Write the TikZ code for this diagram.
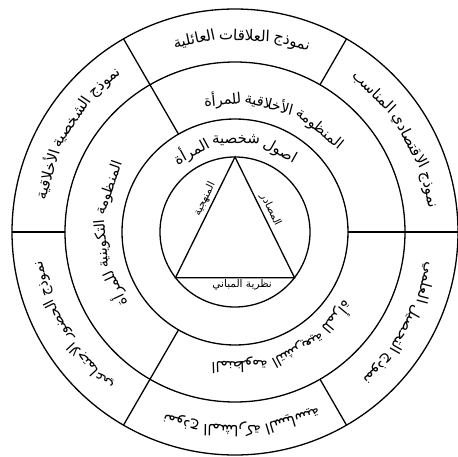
\documentclass[tikz,border=0pt]{standalone}
\usepackage{fontspec}
\newfontfamily\arfont[Script=Arabic]{DejaVu Sans}
\TeXXeTstate=1
\usetikzlibrary{calc}
\tikzset{
  ring/.style={line width=1.3pt},
  spoke/.style={line width=1.3pt},
  word/.style={inner sep=0pt},
  sidelabel/.style={inner sep=3pt, font=\arfont\fontsize{10.5}{12}\selectfont},
}
% words of one label set along an arc, read counter-clockwise
\newsavebox\wordbox
\newdimen\wordwd
\newcommand\measureword[2]{% font size, word
  \pgfinterruptpicture
    \sbox\wordbox{\arfont\fontsize{#1}{#1}\selectfont\beginR#2\endR}%
    \global\wordwd=\wd\wordbox
  \endpgfinterruptpicture}
\newcommand\ringtext[5]{% name, centre angle, radius (pt), font size, words
  \gdef\ringtot{0}%
  \foreach \w in {#5}{%
    \measureword{#4}{\w}%
    \pgfmathsetmacro\tmp{\ringtot+deg((\wordwd+4)/#3)}%
    \global\let\ringtot\tmp}%
  \pgfmathsetmacro\tmp{#2-(\ringtot-deg(4/#3))/2}%
  \global\let\ringang\tmp
  \foreach \w [count=\i] in {#5}{%
    \measureword{#4}{\w}%
    \pgfmathsetmacro\wordang{\ringang+deg(\wordwd/2/#3)}%
    \node[word, rotate=\wordang-90, font=\arfont\fontsize{#4}{#4}\selectfont]
      (#1-\i) at (\wordang:#3pt) {\beginR\w\endR};
    \pgfmathsetmacro\tmp{\ringang+deg((\wordwd+4)/#3)}%
    \global\let\ringang\tmp}%
}

\begin{document}
\begin{tikzpicture}
  \useasboundingbox (-235pt,-224pt) rectangle (223pt,232pt);

  % --- rings and spokes ---------------------------------------------
  \foreach \r in {223,170,113,75} \draw[ring] (0,0) circle (\r pt);
  \foreach \a in {0,120,240} \draw[spoke] (\a:113pt) -- (\a:223pt);
  \foreach \a in {60,180,300} \draw[spoke] (\a:170pt) -- (\a:223pt);

  % --- triangle in the core -----------------------------------------
  \coordinate (apex) at (90:75pt);
  \coordinate (left) at (217.5:75pt);
  \coordinate (right) at (322.5:75pt);
  \draw[ring] (apex) -- (left) -- (right) -- cycle;
  \path (left) -- node[sidelabel, pos=0.62, sloped, above] (method) {\beginR المنهجية\endR} (apex);
  \path (apex) -- node[sidelabel, pos=0.47, sloped, above] (sources) {\beginR المصادر\endR} (right);
  \path (left) -- node[sidelabel, pos=0.56, below, inner sep=2pt] (theory) {\beginR نظرية المباني\endR} (right);

  % --- inner ring ---------------------------------------------------
  \ringtext{base}{90}{92}{15}{اصول,شخصية,المرأة}

  % --- middle ring --------------------------------------------------
  \ringtext{moral}{71}{133}{14.5}{المنظومة,الأخلاقية,للمرأة}
  \ringtext{form}{181}{133}{14.5}{المنظومة,التكوينية,للمرأة}
  \ringtext{law}{294}{133}{14.5}{المنظومة,التشريعية,للمرأة}

  % --- outer ring ---------------------------------------------------
  \ringtext{family}{88}{197}{15}{نموذج,العلاقات,العائلية}
  \ringtext{econ}{30}{197}{15}{نموذج,الاقتصادي,المناسب}
  \ringtext{ethic}{148}{197}{15}{نموذج,الشخصية,الأخلاقية}
  \ringtext{social}{210}{197}{14.5}{نموذج,الحضور,الاجتماعي}
  \ringtext{polit}{272}{197}{15}{نموذج,المشاركة,السياسية}
  \ringtext{study}{331}{197}{15}{نموذج,التحصيل,العلمي}

\end{tikzpicture}
\end{document}
